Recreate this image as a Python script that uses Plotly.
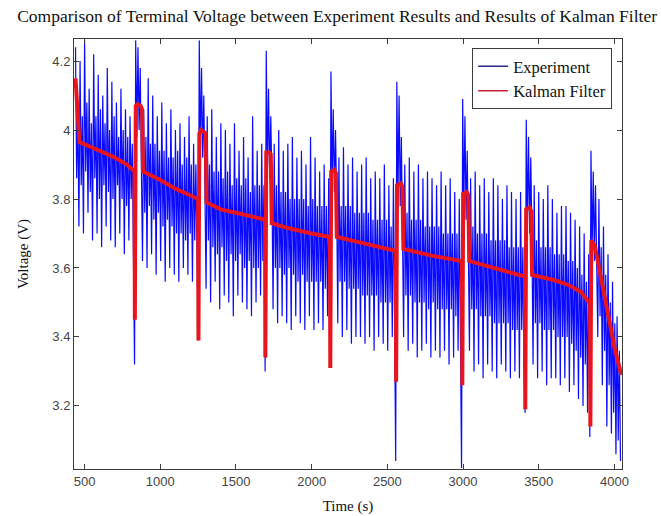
import plotly.graph_objects as go

# ---------------- data ----------------
exp_t0 = 440      # first experiment sample time (s)
exp_dt = 7.5      # sample spacing (s)
experiment_v = [
    # segment 1
    4.24, 3.86, 4.06, 3.72, 4.20, 3.84, 4.04, 3.70,
    4.26, 3.88, 4.08, 3.76, 4.12, 3.82, 4.02, 3.68,
    4.22, 3.86, 4.04, 3.70, 4.16, 3.80, 4.06, 3.66,
    4.10, 3.84, 4.02, 3.72, 4.18, 3.82, 4.00, 3.68,
    4.14, 3.80, 4.04, 3.66, 4.08, 3.84, 3.98, 3.70,
    4.12, 3.80, 4.00, 3.64, 4.06, 3.78, 3.98, 3.68,
    4.04, 3.80, 3.96, 3.70,
    # pulse 1
    3.32, 4.26, 3.98, 4.24, 4.00, 4.18, 3.96,
    # segment 2
    3.62, 4.06, 3.76, 3.98, 3.60, 4.15, 3.78, 3.96,
    3.64, 4.10, 3.74, 3.96, 3.58, 4.04, 3.76, 3.94,
    3.62, 4.08, 3.72, 3.94, 3.56, 4.02, 3.74, 3.92,
    3.60, 4.06, 3.72, 3.92, 3.58, 4.00, 3.70, 3.94,
    3.56, 4.02, 3.70, 3.90, 3.60, 3.98, 3.68, 3.92,
    3.58, 4.04, 3.70, 3.90, 3.56, 3.96, 3.68, 3.90,
    3.60,
    # pulse 2
    3.39, 4.26, 3.94, 4.18, 3.92, 4.10, 3.88,
    # segment 3
    3.54, 4.04, 3.68, 3.90, 3.50, 4.06, 3.66, 3.88,
    3.56, 3.98, 3.64, 3.88, 3.48, 4.02, 3.66, 3.86,
    3.52, 4.00, 3.62, 3.88, 3.50, 3.96, 3.64, 3.84,
    3.46, 4.02, 3.62, 3.86, 3.52, 3.94, 3.64, 3.84,
    3.50, 3.98, 3.60, 3.86, 3.48, 3.92, 3.62, 3.82,
    3.46, 4.04, 3.60, 3.84, 3.50, 3.94, 3.60, 3.84,
    3.52, 3.96, 3.62, 3.84,
    # pulse 3
    3.30, 4.23, 3.88, 4.12, 3.86, 4.04, 3.84,
    # segment 4
    3.48, 3.96, 3.60, 3.84, 3.44, 4.00, 3.60, 3.82,
    3.46, 3.94, 3.58, 3.82, 3.44, 3.96, 3.60, 3.80,
    3.42, 3.98, 3.58, 3.80, 3.46, 3.92, 3.56, 3.80,
    3.44, 3.94, 3.58, 3.80, 3.42, 3.90, 3.56, 3.78,
    3.46, 3.98, 3.56, 3.80, 3.42, 3.92, 3.56, 3.78,
    3.44, 3.88, 3.56, 3.78, 3.42, 3.90, 3.54, 3.78,
    3.46, 3.86,
    # pulse 4
    3.31, 4.17, 3.84, 4.06, 3.82, 4.00, 3.80,
    # segment 5
    3.44, 3.92, 3.56, 3.78, 3.40, 3.95, 3.56, 3.78,
    3.42, 3.90, 3.54, 3.78, 3.38, 3.92, 3.54, 3.76,
    3.40, 3.88, 3.54, 3.76, 3.40, 3.90, 3.52, 3.76,
    3.38, 3.92, 3.52, 3.76, 3.40, 3.86, 3.52, 3.74,
    3.36, 3.88, 3.52, 3.74, 3.40, 3.86, 3.50, 3.74,
    3.38, 3.90, 3.50, 3.74, 3.36, 3.84, 3.50, 3.72,
    3.40, 3.86, 3.52,
    # pulse 5
    3.04, 4.14, 3.80, 4.10, 3.78, 3.98, 3.76,
    # segment 6
    3.40, 3.90, 3.52, 3.76, 3.36, 3.92, 3.52, 3.74,
    3.38, 3.88, 3.50, 3.74, 3.34, 3.90, 3.50, 3.74,
    3.36, 3.86, 3.50, 3.72, 3.38, 3.88, 3.48, 3.72,
    3.34, 3.86, 3.50, 3.72, 3.36, 3.84, 3.48, 3.72,
    3.34, 3.88, 3.48, 3.70, 3.36, 3.84, 3.48, 3.70,
    3.32, 3.86, 3.48, 3.70, 3.34, 3.82, 3.46, 3.70,
    3.36, 3.80, 3.48,
    # pulse 6
    3.02, 4.09, 3.76, 4.04, 3.74, 3.94, 3.72,
    # segment 7
    3.36, 3.86, 3.48, 3.72, 3.30, 3.88, 3.48, 3.70,
    3.32, 3.84, 3.46, 3.70, 3.28, 3.86, 3.46, 3.70,
    3.32, 3.82, 3.46, 3.68, 3.30, 3.86, 3.44, 3.68,
    3.28, 3.84, 3.44, 3.68, 3.32, 3.80, 3.44, 3.68,
    3.30, 3.84, 3.44, 3.66, 3.28, 3.82, 3.42, 3.66,
    3.30, 3.80, 3.42, 3.66, 3.28, 3.82, 3.42, 3.66,
    3.30,
    # pulse 7
    3.18, 4.03, 3.72, 3.98, 3.70, 3.92, 3.68,
    # segment 8
    3.32, 3.84, 3.44, 3.68, 3.28, 3.82, 3.44, 3.66,
    3.30, 3.80, 3.42, 3.66, 3.26, 3.84, 3.42, 3.66,
    3.28, 3.80, 3.42, 3.64, 3.28, 3.76, 3.40, 3.64,
    3.26, 3.78, 3.40, 3.64, 3.28, 3.78, 3.40, 3.62,
    3.24, 3.76, 3.38, 3.62, 3.26, 3.74, 3.36, 3.60,
    3.22, 3.72, 3.34, 3.58, 3.20, 3.70, 3.32, 3.56,
    3.18, 3.64,
    # pulse 8
    3.11, 3.94, 3.64, 3.88, 3.62, 3.84, 3.58,
    # final
    3.40, 3.80, 3.46, 3.66, 3.26, 3.72, 3.36, 3.58,
    3.14, 3.64, 3.26, 3.50, 3.12, 3.56, 3.18, 3.44,
    3.06, 3.46, 3.10, 3.36, 3.04,
]
experiment_t = [exp_t0 + exp_dt * i for i in range(len(experiment_v))]

kalman_t = [
    440, 452, 466, 600, 700, 780, 825,
    830, 832, 838, 850, 870, 880, 886, 1000, 1100, 1200, 1245,
    1250, 1252, 1258, 1270, 1290, 1300, 1306, 1400, 1500, 1600, 1686,
    1692, 1694, 1700, 1720, 1730, 1736, 1850, 2000, 2115,
    2121, 2123, 2129, 2150, 2160, 2166, 2300, 2450, 2550,
    2556, 2558, 2564, 2590, 2600, 2606, 2800, 2987,
    2993, 2995, 3001, 3025, 3035, 3041, 3200, 3403,
    3409, 3411, 3417, 3440, 3450, 3456, 3600, 3700, 3780, 3833,
    3839, 3841, 3847, 3870, 3890, 3920, 3960, 4000, 4045,
]
kalman_v = [
    4.15, 4.05, 3.965, 3.94, 3.92, 3.90, 3.885,
    3.88, 3.45, 4.07, 4.075, 4.07, 4.06, 3.88, 3.855, 3.83, 3.81, 3.80,
    3.80, 3.39, 3.99, 4.00, 3.995, 3.99, 3.79, 3.77, 3.76, 3.75, 3.74,
    3.74, 3.34, 3.935, 3.935, 3.93, 3.73, 3.715, 3.70, 3.69,
    3.69, 3.31, 3.88, 3.885, 3.875, 3.69, 3.675, 3.66, 3.65,
    3.65, 3.27, 3.84, 3.845, 3.835, 3.655, 3.635, 3.62,
    3.62, 3.26, 3.815, 3.82, 3.81, 3.62, 3.60, 3.575,
    3.575, 3.19, 3.77, 3.775, 3.765, 3.58, 3.565, 3.55, 3.53, 3.50,
    3.50, 3.14, 3.68, 3.665, 3.62, 3.55, 3.45, 3.37, 3.29,
]

x_ticks = [500, 1000, 1500, 2000, 2500, 3000, 3500, 4000]
y_ticks = [3.2, 3.4, 3.6, 3.8, 4.0, 4.2]
y_tick_text = ["3.2", "3.4", "3.6", "3.8", "4", "4.2"]

exp_color = "#0a0aff"
kal_color = "#e8141e"

# ---------------- figure ----------------
fig = go.Figure()
fig.add_trace(go.Scatter(
    x=experiment_t, y=experiment_v, mode="lines", name="Experiment",
    line=dict(color=exp_color, width=1.2), showlegend=False,
))
fig.add_trace(go.Scatter(
    x=kalman_t, y=kalman_v, mode="lines", name="Kalman Filter",
    line=dict(color=kal_color, width=4), showlegend=False,
))
# legend entries drawn with thin lines, as in the original
fig.add_trace(go.Scatter(
    x=[None], y=[None], mode="lines", name="Experiment",
    line=dict(color="#2a2a8a", width=1.5),
))
fig.add_trace(go.Scatter(
    x=[None], y=[None], mode="lines", name="Kalman Filter",
    line=dict(color="#d02030", width=1.5),
))

serif = "Liberation Serif, Times New Roman, serif"
sans = "Liberation Sans, Arial, sans-serif"

axis_common = dict(
    showline=True, linecolor="#3c3c3c", linewidth=1, mirror="ticks",
    ticks="inside", ticklen=5, tickcolor="#3c3c3c", showgrid=False,
    zeroline=False, automargin=False,
    tickfont=dict(family=sans, size=13, color="#444444"),
)

fig.update_layout(
    width=661, height=516,
    margin=dict(l=74, r=39, t=39, b=47),
    paper_bgcolor="white", plot_bgcolor="white",
    title=dict(
        text="Comparison of Terminal Voltage between Experiment Results and Results of Kalman Filter",
        x=0.51, xanchor="center", y=0.97, yanchor="middle",
        font=dict(family=serif, size=17.5, color="#111111"),
    ),
    xaxis=dict(
        range=[430, 4050], tickvals=x_ticks,
        title=dict(text="Time (s)", font=dict(family=serif, size=15, color="#111111"), standoff=12),
        **axis_common,
    ),
    yaxis=dict(
        range=[3.017, 4.264], tickvals=y_ticks, ticktext=y_tick_text,
        title=dict(text="Voltage (V)", font=dict(family=serif, size=15, color="#111111"), standoff=20),
        **axis_common,
    ),
    showlegend=True,
    legend=dict(
        x=0.982, y=0.979, xanchor="right", yanchor="top",
        bgcolor="white", bordercolor="#3c3c3c", borderwidth=1,
        font=dict(family=serif, size=16.5, color="#111111"),
        tracegroupgap=0,
    ),
)

fig.write_html("out.html")
